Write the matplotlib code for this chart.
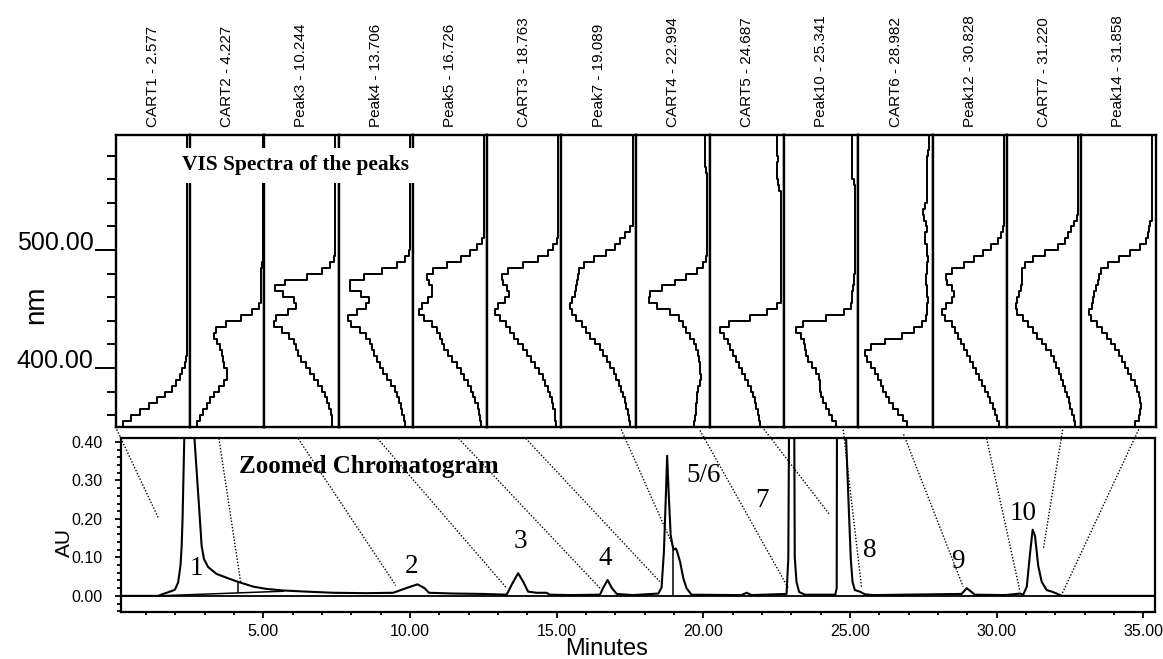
import numpy as np
import matplotlib
matplotlib.use("Agg")
import matplotlib.pyplot as plt
from matplotlib.ticker import FixedLocator, MultipleLocator, FormatStrFormatter

plt.rcParams['font.family'] = 'Liberation Sans'

# ---- VIS spectra of the peaks (nm on the vertical, normalised absorbance) ----
peak_ids = ["CART1 - 2.577", "CART2 - 4.227", "Peak3 - 10.244", "Peak4 - 13.706",
            "Peak5 - 16.726", "CART3 - 18.763", "Peak7 - 19.089", "CART4 - 22.994",
            "CART5 - 24.687", "Peak10 - 25.341", "CART6 - 28.982", "Peak12 - 30.828",
            "CART7 - 31.220", "Peak14 - 31.858"]

nm = np.arange(350, 605, 5)   # wavelength grid 350..600

spec_cart1 = [1.0, 0.88, 0.76, 0.62, 0.49, 0.37, 0.26, 0.19, 0.13, 0.08, 0.05, 0.02] + [0.0] * 39
spec_cart2 = [0.96, 0.92, 0.88, 0.82, 0.77, 0.72, 0.65, 0.58, 0.52, 0.47, 0.53, 0.55, 0.56, 0.58,
              0.62, 0.66, 0.71, 0.62, 0.40, 0.20, 0.07] + [0.0] * 7 + [-0.03] * 23
spec_peak3 = [0.04, 0.05, 0.06, 0.08, 0.11, 0.14, 0.18, 0.22, 0.28, 0.34, 0.40, 0.47, 0.53, 0.56,
              0.59, 0.63, 0.72, 0.85, 0.95, 0.78, 0.62, 0.53, 0.68, 0.85, 0.92, 0.55, 0.27, 0.12,
              0.04] + [0.0] * 22
spec_peak4 = [0.07, 0.08, 0.10, 0.12, 0.14, 0.17, 0.20, 0.24, 0.30, 0.36, 0.42, 0.45, 0.50, 0.55,
              0.56, 0.60, 0.68, 0.78, 0.95, 0.85, 0.70, 0.58, 0.62, 0.80, 0.95, 0.80, 0.55, 0.25,
              0.12, 0.03] + [0.0] * 21
spec_peak5 = [0.04, 0.05, 0.06, 0.08, 0.11, 0.14, 0.17, 0.21, 0.26, 0.31, 0.37, 0.43, 0.50, 0.56,
              0.60, 0.64, 0.66, 0.70, 0.82, 0.92, 0.97, 0.85, 0.78, 0.75, 0.77, 0.84, 0.83, 0.65,
              0.42, 0.26, 0.14, 0.06, 0.01] + [0.0] * 18
spec_cart3 = [0.03, 0.04, 0.05, 0.06, 0.08, 0.11, 0.14, 0.17, 0.21, 0.25, 0.30, 0.37, 0.43, 0.49,
              0.55, 0.62, 0.68, 0.72, 0.80, 0.90, 0.95, 0.82, 0.73, 0.72, 0.78, 0.83, 0.82, 0.64,
              0.38, 0.20, 0.10, 0.05] + [0.0] * 19
spec_peak7 = [0.03, 0.04, 0.06, 0.08, 0.10, 0.13, 0.15, 0.18, 0.22, 0.25, 0.30, 0.35, 0.40, 0.45,
              0.51, 0.58, 0.65, 0.71, 0.78, 0.86, 0.92, 0.90, 0.86, 0.83, 0.81, 0.80, 0.79, 0.78,
              0.65, 0.48, 0.30, 0.22, 0.15, 0.08] + [0.0] * 17
spec_cart4 = [0.20, 0.18, 0.16, 0.16, 0.15, 0.15, 0.15, 0.12, 0.09, 0.09, 0.10, 0.11, 0.12, 0.14,
              0.17, 0.21, 0.27, 0.33, 0.38, 0.44, 0.65, 0.80, 0.90, 0.76, 0.55, 0.38, 0.22, 0.08,
              0.02] + [0.0] * 15 + [0.03] * 7
spec_cart5 = [0.30, 0.31, 0.33, 0.35, 0.37, 0.40, 0.43, 0.46, 0.51, 0.55, 0.59, 0.64, 0.68, 0.72,
              0.76, 0.80, 0.86, 0.93, 0.60, 0.30, 0.12] + [0.0] * 20 + \
             [0.05, 0.05, 0.08, 0.05, 0.06, 0.03, 0.08, 0.05, 0.08, 0.05]
spec_peak10 = [0.27, 0.31, 0.36, 0.42, 0.45, 0.49, 0.51, 0.51, 0.52, 0.54, 0.60, 0.66, 0.72, 0.73,
               0.74, 0.76, 0.84, 0.90, 0.62, 0.25, 0.08, 0.06, 0.05, 0.04, 0.03, 0.02, 0.01] + \
              [0.0] * 15 + [0.05] * 9
spec_cart6 = [0.30, 0.36, 0.43, 0.50, 0.57, 0.61, 0.66, 0.70, 0.73, 0.77, 0.82, 0.88, 0.96, 0.92,
              0.78, 0.52, 0.30, 0.15, 0.06, 0.04, 0.05, 0.03, 0.03, 0.05, 0.04, 0.06, 0.04, 0.04,
              0.03, 0.03, 0.05, 0.04, 0.10, 0.05, 0.04, 0.06, 0.10, 0.10, 0.04, 0.04] + \
             [0.04] * 7 + [0.01] * 4
spec_peak12 = [0.07, 0.08, 0.11, 0.14, 0.18, 0.22, 0.25, 0.29, 0.34, 0.38, 0.43, 0.48, 0.52, 0.57,
               0.60, 0.65, 0.70, 0.73, 0.80, 0.92, 0.90, 0.80, 0.73, 0.72, 0.80, 0.85, 0.84, 0.67,
               0.50, 0.37, 0.25, 0.12, 0.05, 0.03] + [0.0] * 17
spec_cart7 = [0.04, 0.05, 0.07, 0.10, 0.13, 0.15, 0.18, 0.20, 0.24, 0.27, 0.30, 0.34, 0.37, 0.43,
              0.50, 0.56, 0.63, 0.70, 0.77, 0.85, 0.93, 0.90, 0.88, 0.86, 0.82, 0.82, 0.82, 0.82,
              0.72, 0.60, 0.38, 0.22, 0.17, 0.12, 0.08, 0.03] + [0.0] * 15
spec_peak14 = [0.30, 0.22, 0.18, 0.17, 0.17, 0.19, 0.21, 0.24, 0.28, 0.34, 0.38, 0.43, 0.47, 0.52,
               0.58, 0.62, 0.70, 0.77, 0.86, 0.94, 0.90, 0.88, 0.86, 0.84, 0.80, 0.79, 0.77, 0.72,
               0.58, 0.40, 0.25, 0.12, 0.08, 0.05, 0.04, 0.02] + [0.0] * 15

spectra = [spec_cart1, spec_cart2, spec_peak3, spec_peak4, spec_peak5, spec_cart3, spec_peak7,
           spec_cart4, spec_cart5, spec_peak10, spec_cart6, spec_peak12, spec_cart7, spec_peak14]

# ---- zoomed chromatogram (minutes, AU) ----
t_min = [0.15, 1.42, 1.59, 1.82, 1.99, 2.10, 2.18, 2.22, 2.25, 2.32,
         2.45, 2.62, 2.84, 2.90, 2.98, 3.12, 3.41, 3.86, 4.20, 4.66,
         5.11, 5.68, 6.48, 7.39, 8.52, 9.43, 9.54, 9.87, 10.26, 10.50,
         10.65, 11.50, 12.50, 13.30, 13.47, 13.69, 13.86, 14.03, 14.32, 14.66,
         14.77, 15.50, 16.48, 16.59, 16.74, 16.88, 17.05, 17.60, 18.47, 18.58,
         18.66, 18.73, 18.77, 18.82, 18.89, 18.98, 19.07, 19.11, 19.21, 19.32,
         19.43, 19.60, 21.30, 21.48, 21.65, 22.84, 22.90, 22.93, 23.01, 23.10,
         23.12, 23.18, 23.27, 23.47, 24.50, 24.55, 24.56, 24.70, 24.87, 24.94,
         25.03, 25.09, 25.17, 25.34, 25.51, 25.80, 28.81, 28.98, 29.15, 29.26,
         30.30, 30.80, 30.91, 31.03, 31.14, 31.23, 31.31, 31.42, 31.54, 31.71,
         31.88, 32.05, 32.22, 35.40]
au = [0.0, 0.0, 0.005, 0.011, 0.016, 0.035, 0.079, 0.13, 0.20, 0.45,
      0.60, 0.45, 0.20, 0.13, 0.096, 0.075, 0.057, 0.044, 0.035, 0.024,
      0.018, 0.014, 0.011, 0.008, 0.007, 0.008, 0.011, 0.020, 0.030, 0.020,
      0.008, 0.006, 0.005, 0.003, 0.029, 0.059, 0.037, 0.011, 0.008, 0.008,
      0.003, 0.002, 0.003, 0.021, 0.041, 0.021, 0.005, 0.002, 0.006, 0.022,
      0.115, 0.27, 0.364, 0.27, 0.158, 0.12, 0.123, 0.115, 0.089, 0.046,
      0.02, 0.003, 0.002, 0.008, 0.002, 0.005, 0.096, 0.50, 0.90, 0.50,
      0.10, 0.036, 0.01, 0.003, 0.003, 0.02, 0.50, 1.20, 0.41, 0.27,
      0.096, 0.036, 0.015, 0.011, 0.004, 0.002, 0.005, 0.020, 0.010, 0.003,
      0.002, 0.006, 0.003, 0.024, 0.11, 0.172, 0.156, 0.078, 0.036, 0.015,
      0.011, 0.006, 0.0, 0.0]

# integration baseline under peak 1 and drop lines
base_t = [1.42, 5.68]
base_au = [0.0, 0.012]
drop_t = [4.15, 18.98]
drop_lo = [0.008, 0.0]
drop_hi = [0.036, 0.12]

# peak numbers written on the chromatogram
peak_names = ["1", "2", "3", "4", "5/6", "7", "8", "9", "10"]
peak_t = [2.73, 10.06, 13.75, 16.65, 20.0, 21.99, 25.68, 28.69, 30.91]
peak_au = [0.072, 0.076, 0.141, 0.098, 0.314, 0.249, 0.119, 0.089, 0.215]

# dotted links spectrum -> peak (start / end in chromatogram units)
link_t0 = [-0.04, 3.49, 6.19, 8.90, 11.66, 13.95, 17.16, 19.89, 22.00, 24.76, 26.83, 29.66, 32.27, 34.89]
link_au0 = [0.44, 0.409, 0.409, 0.409, 0.409, 0.409, 0.44, 0.43, 0.44, 0.44, 0.42, 0.409, 0.44, 0.44]
link_t1 = [1.44, 4.23, 9.52, 13.30, 16.48, 18.52, 19.00, 22.90, 24.32, 25.40, 28.86, 30.80, 31.59, 32.22]
link_au1 = [0.20, 0.036, 0.027, 0.02, 0.02, 0.037, 0.125, 0.02, 0.21, 0.02, 0.024, 0.011, 0.12, 0.003]


fig = plt.figure(figsize=(11.63, 6.59), dpi=100)

# top panel: one narrow axes per spectrum
top_left, top_bottom, top_w, top_h = 0.0995, 0.3528, 0.8941, 0.4423
col_w = top_w / len(spectra)
spec_axes = []
for i, (name, a) in enumerate(zip(peak_ids, spectra)):
    ax = fig.add_axes([top_left + i * col_w, top_bottom, col_w, top_h])
    ax.plot(a, nm, color='black', lw=1.4, drawstyle='steps-mid')
    ax.set_xlim(1.04, -0.045)
    ax.set_ylim(350.4, 597.5)
    ax.set_xticks([])
    for s in ax.spines.values():
        s.set_linewidth(1.7)
    ax.text(0.5, 1.028, name, rotation=90, ha='center', va='bottom',
            transform=ax.transAxes, fontsize=11)
    if i == 0:
        ax.yaxis.set_major_locator(FixedLocator([400, 500]))
        ax.set_yticklabels(['400.00', '500.00'], fontsize=18)
        ax.yaxis.set_minor_locator(FixedLocator([360, 380, 420, 440, 460, 480, 520, 540, 560, 580]))
        ax.tick_params(axis='y', which='major', length=15, width=1.4, pad=1)
        ax.tick_params(axis='y', which='minor', length=6.5, width=1.4)
        for lab in ax.get_yticklabels():
            lab.set_va('baseline')
        ax.set_ylabel('nm', fontsize=20)
        ax.yaxis.set_label_coords(-1.073, 0.417)
        ax.yaxis.label.set_va('center')
    else:
        ax.set_yticks([])
    spec_axes.append(ax)

fig.text(0.1562, 0.7489, 'VIS Spectra of the peaks', ha='left', va='center', fontsize=15.5,
         fontweight='bold', family='Liberation Serif', zorder=5,
         bbox=dict(facecolor='white', edgecolor='none', boxstyle='square,pad=0.35'))

# bottom panel: chromatogram
cx = fig.add_axes([0.1040, 0.0713, 0.8891, 0.2633])
cx.axhline(0, color='black', lw=1.3)
cx.plot(t_min, au, color='black', lw=1.5)
cx.plot(base_t, base_au, color='black', lw=1.1)
cx.vlines(drop_t, drop_lo, drop_hi, color='black', lw=1.1)
for t0, a0, t1, a1 in zip(link_t0, link_au0, link_t1, link_au1):
    cx.plot([t0, t1], [a0, a1], color='black', lw=1.0, ls=(0, (1, 1.3)), clip_on=False)
for name, t, a in zip(peak_names, peak_t, peak_au):
    cx.text(t, a, name, ha='center', va='center', fontsize=19.5, family='Liberation Serif')
cx.text(4.19, 0.335, 'Zoomed Chromatogram', ha='left', va='center', fontsize=18,
        fontweight='bold', family='Liberation Serif')

cx.set_xlim(0.15, 35.4)
cx.set_ylim(-0.042, 0.409)
cx.xaxis.set_major_locator(MultipleLocator(5))
cx.xaxis.set_minor_locator(MultipleLocator(1))
cx.xaxis.set_major_formatter(FormatStrFormatter('%.2f'))
cx.yaxis.set_major_locator(FixedLocator([0.0, 0.1, 0.2, 0.3, 0.4]))
cx.yaxis.set_minor_locator(FixedLocator(np.arange(-0.04, 0.41, 0.02)))
cx.yaxis.set_major_formatter(FormatStrFormatter('%.2f'))
cx.tick_params(axis='x', which='major', length=4.5, width=1.3, pad=4, labelsize=11.5)
cx.tick_params(axis='x', which='minor', length=2, width=1.3)
cx.tick_params(axis='y', which='major', length=4.5, width=1.3, pad=9, labelsize=11.5)
cx.tick_params(axis='y', which='minor', length=3, width=1.3)
for s in cx.spines.values():
    s.set_linewidth(1.6)
cx.set_xlabel('Minutes', fontsize=17)
cx.xaxis.set_label_coords(0.47, -0.215)
cx.xaxis.label.set_va('center')
cx.set_ylabel('AU', fontsize=15)
cx.yaxis.set_label_coords(-0.055, 0.398)
cx.yaxis.label.set_va('center')

fig.savefig('out.png', dpi=100)
